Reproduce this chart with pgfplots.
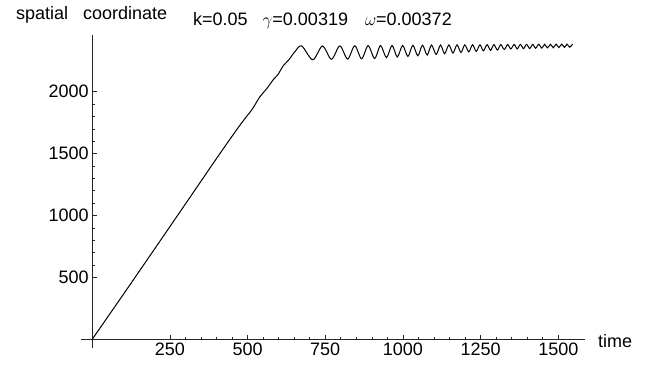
\documentclass[border=0pt]{standalone}
\usepackage{fontspec}
\setmainfont{Liberation Sans}
\usepackage{pgfplots}
\pgfplotsset{compat=1.18}
\begin{document}
\begin{tikzpicture}[x=1pt,y=1pt]
\begin{axis}[
  at={(81pt,19pt)}, anchor=south west,
  scale only axis, width=504pt, height=313pt,
  axis lines=middle,
  axis line style={-, line width=0.7pt, black!85},
  xmin=-36, xmax=1586, ymin=-70, ymax=2458,
  xtick={250,500,750,1000,1250,1500},
  ytick={500,1000,1500,2000},
  minor x tick num=4, minor y tick num=4,
  tick align=inside,
  major tick length=4.5pt, minor tick length=2.5pt,
  tick style={black!85, line width=0.6pt},
  tick label style={font=\fontsize{18}{20}\selectfont},
  /pgf/number format/assume math mode=true,
  /pgf/number format/1000 sep={},
  clip=false,
]
\addplot[black, line width=1pt, smooth, tension=0.5] coordinates {
(0,0)(100,362)(200,727)(300,1093)(400,1460)(450,1640)(480,1745)(500,1810)
(515,1858)(540,1960)(561,2022)(583,2098)(597,2135)(615,2210)(633,2258)(652,2322)
(674,2370)(710,2258)(741,2369)(770,2262)(797,2370)(822,2264)(845,2371)
(867,2266)(888,2372)(909,2268)(928,2373)(947,2275)(965,2374)(982,2280)
(999,2374)(1016,2285)(1032,2375)(1048,2290)(1063,2376)(1078,2296)
(1092,2377)(1107,2301)(1121,2377)(1134,2307)(1148,2378)(1161,2312)
(1174,2378)(1187,2317)(1199,2378)(1212,2322)(1224,2379)(1236,2326)
(1248,2379)(1259,2330)(1271,2380)(1282,2334)(1293,2380)(1304,2337)
(1315,2381)(1326,2341)(1337,2381)(1347,2345)(1358,2381)(1368,2346)
(1378,2382)(1388,2348)(1398,2382)(1408,2349)(1418,2382)(1427,2351)
(1437,2383)(1447,2352)(1456,2383)(1465,2354)(1475,2383)(1484,2355)
(1493,2384)(1502,2357)(1511,2384)(1520,2358)(1528,2384)(1537,2359)
(1546,2385)
};
\node[anchor=west, inner sep=0, xshift=13pt, yshift=-1.5pt, font=\fontsize{18}{20}\selectfont] at (axis cs:1586,0) {time};
\end{axis}
\node[anchor=base west, inner sep=0, font=\fontsize{18}{20}\selectfont] at (16pt,347pt) {spatial\hspace{15pt}coordinate};
\node[anchor=base west, inner sep=0, font=\fontsize{18}{20}\selectfont] at (193pt,341pt) {k=0.05\hspace{15pt}$\gamma$=0.00319\hspace{17pt}$\omega$=0.00372};
\pgfresetboundingbox
\path[use as bounding box] (0,0) rectangle (653pt,367pt);
\end{tikzpicture}
\end{document}
